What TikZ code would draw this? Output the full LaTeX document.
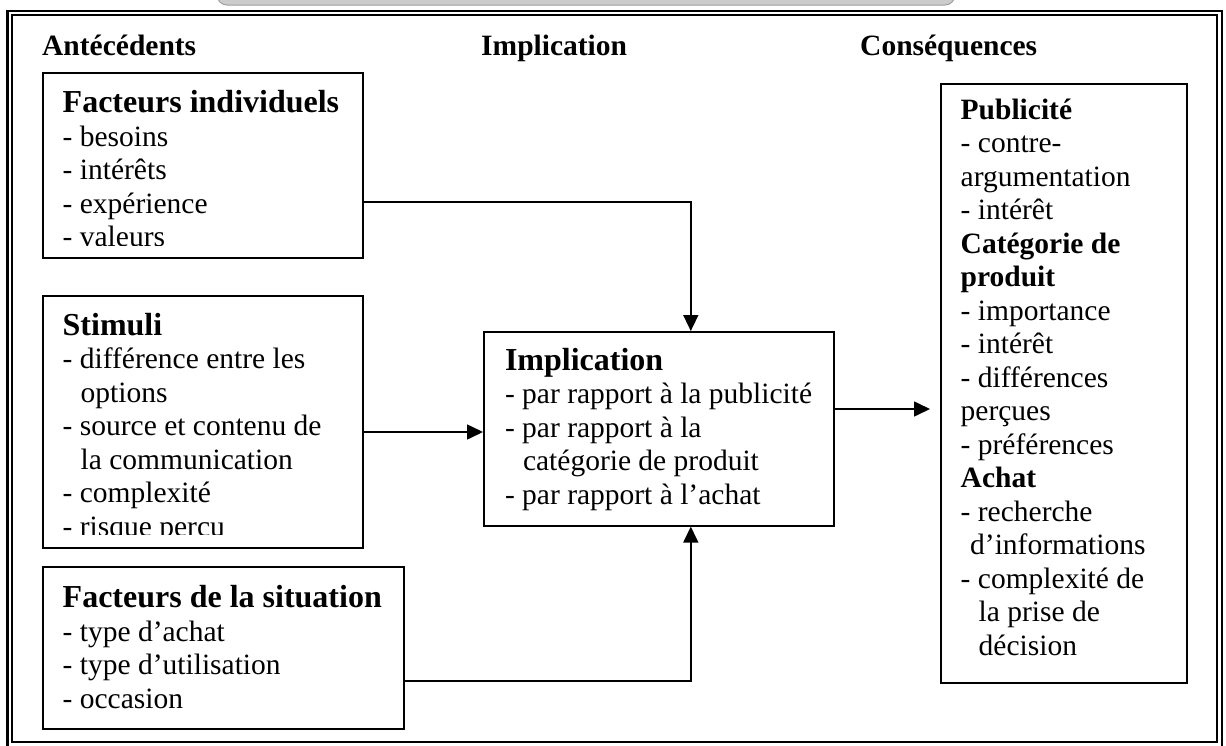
\documentclass[tikz,border=0pt]{standalone}
\usepackage{fontspec}
\setmainfont{Liberation Serif}
\usetikzlibrary{arrows.meta}
\newcommand{\bodysize}{\fontsize{29.5}{33.5}\selectfont\mdseries}
\newcommand{\titlesize}{\fontsize{32}{33.5}\selectfont\bfseries}
\newcommand{\hang}{\hspace*{18pt}}
\begin{document}
\begin{tikzpicture}[x=1pt,y=-1pt,
  box/.style={draw, line width=1.6pt, inner sep=0pt, anchor=north west},
  flow/.style={line width=1.6pt, -{Triangle[length=16pt,width=15pt]}},
  txt/.style={anchor=base west, inner sep=0pt, outer sep=0pt},
  head/.style={anchor=base west, inner sep=0pt, font=\bodysize\bfseries}]
\useasboundingbox (0,0) rectangle (1226,745);

% tab shape peeking above the frame
\draw[gray!75, fill=gray!40, line width=1pt, rounded corners=10pt] (217,-30) rectangle (955,5);

% double frame
\draw[line width=2.2pt] (7.5,10.8) rectangle (1222,748);
\draw[line width=1.2pt] (12,15) rectangle (1217,742);

% column headings
\node[head] (hant) at (42,55) {Antécédents};
\node[head] (himp) at (481,55) {Implication};
\node[head] (hcon) at (860,55) {Conséquences};

% boxes
\node[box, minimum width=320pt, minimum height=185pt] (indiv) at (42,72) {};
\node[box, minimum width=320pt, minimum height=252pt] (stim) at (42,295) {};
\node[box, minimum width=361pt, minimum height=162pt] (situ) at (42,566) {};
\node[box, minimum width=350pt, minimum height=194pt] (impl) at (483,331) {};
\node[box, minimum width=246pt, minimum height=599pt] (cons) at (940,83) {};

% box texts
\begin{scope}
\clip (42,72) rectangle (362,245.5);
\node[txt] (indivtxt) at (62.7,112.7) {\parbox[t]{300pt}{\lineskiplimit=-100pt
  \titlesize Facteurs individuels\\
  \bodysize - besoins\\
  - intérêts\\
  - expérience\\
  - valeurs}};
\end{scope}

\begin{scope}
\clip (42,295) rectangle (362,534);
\node[txt] (stimtxt) at (62.7,335) {\parbox[t]{300pt}{\lineskiplimit=-100pt
  \titlesize Stimuli\\
  \bodysize - différence entre les\\
  \hang options\\
  - source et contenu de\\
  \hang la communication\\
  - complexité\\
  - risque perçu}};
\end{scope}

\node[txt] (situtxt) at (62.7,607.5) {\parbox[t]{340pt}{\lineskiplimit=-100pt
  \titlesize Facteurs de la situation\\
  \bodysize - type d’achat\\
  - type d’utilisation\\
  - occasion}};

\node[txt] (impltxt) at (505,370) {\parbox[t]{330pt}{\lineskiplimit=-100pt
  \titlesize Implication\\
  \bodysize - par rapport à la publicité\\
  - par rapport à la\\
  \hang catégorie de produit\\
  - par rapport à l’achat}};

\node[txt] (constxt) at (960.7,119.3) {\parbox[t]{225pt}{\lineskiplimit=-100pt
  \bodysize\textbf{Publicité}\\
  - contre-\\
  argumentation\\
  - intérêt\\
  \textbf{Catégorie de}\\
  \textbf{produit}\\
  - importance\\
  - intérêt\\
  - différences\\
  perçues\\
  - préférences\\
  \textbf{Achat}\\
  - recherche\\
  \hspace*{9.5pt}d’informations\\
  - complexité de\\
  \hang la prise de\\
  \hang décision}};

% connectors
\coordinate (consin) at (930,409);
\draw[flow] (indiv.east |- 0,202) -| ([xshift=32pt]impl.north);
\draw[flow] (stim.east |- 0,432) -- (impl.west |- 0,432);
\draw[flow] (situ.east |- 0,681) -| ([xshift=32pt]impl.south);
\draw[flow] (impl.east |- consin) -- (consin);
\end{tikzpicture}
\end{document}
